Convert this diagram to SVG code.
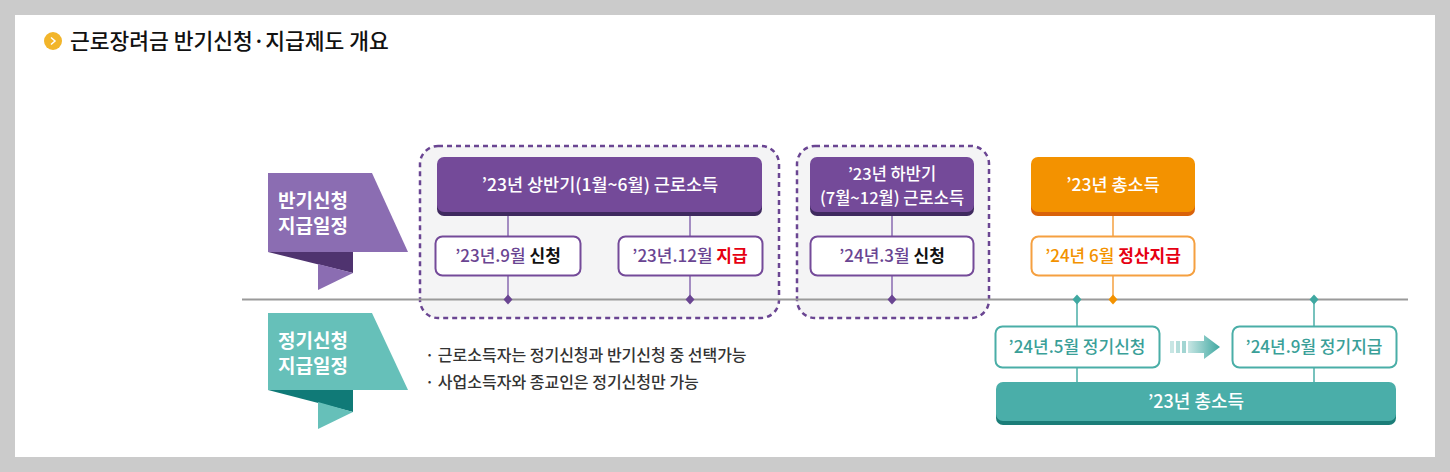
<svg xmlns="http://www.w3.org/2000/svg" width="1450" height="472" viewBox="0 0 1450 472">
<defs>
<style>
text{font-family:"Noto Sans CJK KR","Noto Sans",sans-serif;}
.hd{fill:#fff;font-size:17.5px;font-weight:500;text-anchor:middle;}
.sb{font-size:17px;font-weight:500;text-anchor:middle;}
.pu{fill:#6a4592;}
.bk{fill:#111;font-weight:700;}
.rd{fill:#e60012;font-weight:700;}
.or{fill:#f39200;}
.tl{fill:#3a9f98;}
.bn{fill:#fff;font-size:19px;font-weight:700;text-anchor:middle;}
.dash{fill:#f4f4f5;stroke:#6a4592;stroke-width:2.5;stroke-dasharray:5 4;}
.pline{stroke:#8a6bb0;stroke-width:1.5;}
.oline{stroke:#f5a040;stroke-width:1.5;}
.tline{stroke:#4aaea7;stroke-width:1.5;}
.bul{fill:#333;font-size:16px;font-weight:500;}
</style>
<linearGradient id="ag" x1="0" y1="0" x2="1" y2="0">
<stop offset="0" stop-color="#c8e6e4"/>
<stop offset="1" stop-color="#3fa8a1"/>
</linearGradient>
</defs>
<rect x="0" y="0" width="1450" height="472" fill="#cbcbcb"/>
<rect x="15" y="15" width="1420" height="442" fill="#fff"/>
<g id="title">
<circle cx="53" cy="41" r="9" fill="#f2b52a"/>
<path d="M51 37.5 L55 41 L51 44.5" fill="none" stroke="#fff" stroke-width="1.5"/>
<text x="70" y="49" font-size="21.5" font-weight="500" fill="#111">근로장려금 반기신청·지급제도 개요</text>
</g>
<g id="dashed-boxes">
<rect class="dash" x="420" y="146" width="359" height="172" rx="18"/>
<rect class="dash" x="797" y="146" width="192" height="172" rx="18"/>
</g>
<g id="connectors">
<line x1="242" y1="299.5" x2="1408" y2="299.5" stroke="#9a9a9a" stroke-width="2"/>
<line class="pline" x1="508" y1="214" x2="508" y2="299"/>
<line class="pline" x1="690" y1="214" x2="690" y2="299"/>
<line class="pline" x1="892" y1="214" x2="892" y2="299"/>
<line class="oline" x1="1113" y1="214" x2="1113" y2="299"/>
<line class="tline" x1="1077" y1="299" x2="1077" y2="383"/>
<line class="tline" x1="1314" y1="299" x2="1314" y2="383"/>
<path d="M508 294.5 L512.5 299.5 L508 304.5 L503.5 299.5Z" fill="#6a4592"/>
<path d="M690 294.5 L694.5 299.5 L690 304.5 L685.5 299.5Z" fill="#6a4592"/>
<path d="M892 294.5 L896.5 299.5 L892 304.5 L887.5 299.5Z" fill="#6a4592"/>
<path d="M1113 294.5 L1117.5 299.5 L1113 304.5 L1108.5 299.5Z" fill="#f39200"/>
<path d="M1077 294.5 L1081.5 299.5 L1077 304.5 L1072.5 299.5Z" fill="#3fa8a1"/>
<path d="M1314 294.5 L1318.5 299.5 L1314 304.5 L1309.5 299.5Z" fill="#3fa8a1"/>
<g id="arrow">
<rect x="1170" y="341" width="4" height="12" fill="#c8e6e4"/>
<rect x="1176" y="341" width="4" height="12" fill="#b5dedb"/>
<rect x="1182" y="341" width="4" height="12" fill="#a2d5d2"/>
<path d="M1188 341 H1204 V335 L1220 347 L1204 359 V353 H1188 Z" fill="url(#ag)"/>
</g>
</g>
<g id="banner-half">
<path d="M268 252 L353 252 L353 273 Z" fill="#4f336f"/>
<path d="M318 264 L353 273 L318 290 Z" fill="#8b6db2"/>
<path d="M268 173 L372 173 L408 252 L268 252 Z" fill="#8b6db2"/>
<text class="bn" x="313" y="208">반기신청</text>
<text class="bn" x="313" y="233">지급일정</text>
</g>
<g id="banner-regular">
<path d="M268 390 L353 390 L353 412 Z" fill="#107a77"/>
<path d="M318 402 L353 412 L318 429 Z" fill="#66c0b9"/>
<path d="M268 313 L372 313 L408 390 L268 390 Z" fill="#66c0b9"/>
<text class="bn" x="313" y="348">정기신청</text>
<text class="bn" x="313" y="373">지급일정</text>
</g>
<g id="h1">
<rect x="437" y="160" width="325" height="56" rx="7" fill="#3f2a5f"/>
<rect x="437" y="157" width="325" height="55" rx="7" fill="#744a99"/>
<text class="hd" x="600" y="191">’23년 상반기(1월~6월) 근로소득</text>
</g>
<g id="s1">
<rect x="435.5" y="236.5" width="145" height="39" rx="7" fill="#fff" stroke="#744a99" stroke-width="2"/>
<text class="sb" x="508" y="262"><tspan class="pu">’23년.9월 </tspan><tspan class="bk">신청</tspan></text>
</g>
<g id="s2">
<rect x="618.5" y="236.5" width="144" height="39" rx="7" fill="#fff" stroke="#744a99" stroke-width="2"/>
<text class="sb" x="690" y="262"><tspan class="pu">’23년.12월 </tspan><tspan class="rd">지급</tspan></text>
</g>
<g id="h2">
<rect x="810" y="160" width="164" height="56" rx="7" fill="#3f2a5f"/>
<rect x="810" y="157" width="164" height="55" rx="7" fill="#744a99"/>
<text class="hd" x="892" y="180" style="font-size:16.5px">’23년 하반기</text>
<text class="hd" x="892" y="204" style="font-size:16.5px">(7월~12월) 근로소득</text>
</g>
<g id="s3">
<rect x="810.5" y="236.5" width="163" height="39" rx="7" fill="#fff" stroke="#744a99" stroke-width="2"/>
<text class="sb" x="892" y="262"><tspan class="pu">’24년.3월 </tspan><tspan class="bk">신청</tspan></text>
</g>
<g id="h3">
<rect x="1031" y="160" width="164" height="56" rx="7" fill="#d9620a"/>
<rect x="1031" y="157" width="164" height="55" rx="7" fill="#f39200"/>
<text class="hd" x="1113" y="191">’23년 총소득</text>
</g>
<g id="s4">
<rect x="1031.5" y="236.5" width="163" height="39" rx="7" fill="#fff" stroke="#f5a040" stroke-width="2"/>
<text class="sb" x="1113" y="262"><tspan class="or">’24년 6월 </tspan><tspan class="rd">정산지급</tspan></text>
</g>
<g id="t1">
<rect x="995.5" y="326.5" width="164" height="41" rx="7" fill="#fff" stroke="#4aaea7" stroke-width="2"/>
<text class="sb tl" x="1077" y="353">’24년.5월 정기신청</text>
</g>
<g id="t2">
<rect x="1232.5" y="326.5" width="164" height="41" rx="7" fill="#fff" stroke="#4aaea7" stroke-width="2"/>
<text class="sb tl" x="1314" y="353">’24년.9월 정기지급</text>
</g>
<g id="t3">
<rect x="996" y="386" width="400" height="39" rx="7" fill="#1b7d78"/>
<rect x="996" y="382" width="400" height="39" rx="7" fill="#4aaea9"/>
<text class="hd" x="1196" y="408" style="font-size:18px">’23년 총소득</text>
</g>
<g id="notes">
<text class="bul" x="425" y="361">· 근로소득자는 정기신청과 반기신청 중 선택가능</text>
<text class="bul" x="425" y="388">· 사업소득자와 종교인은 정기신청만 가능</text>
</g>
</svg>
